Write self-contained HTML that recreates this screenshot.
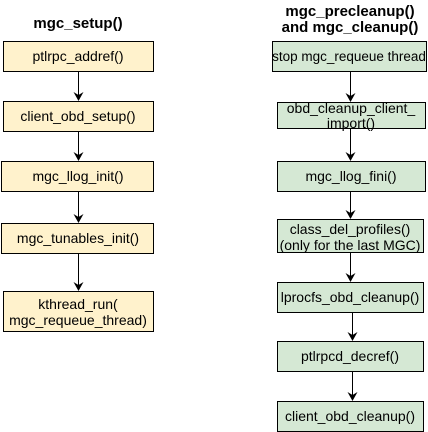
<!DOCTYPE html>
<html><head><style>
html,body{margin:0;padding:0;background:#fff;width:428px;height:432px;overflow:hidden}
svg text{font-family:"Liberation Sans",sans-serif;fill:#000}
</style></head><body>
<svg width="428" height="432" viewBox="0 0 428 432" xmlns="http://www.w3.org/2000/svg">
<g stroke="#000" stroke-width="1">
<rect x="3.5" y="41.5" width="150" height="30" fill="#fff2cc"/>
<rect x="3.5" y="101.5" width="150" height="30" fill="#fff2cc"/>
<rect x="1.5" y="161.5" width="152" height="30" fill="#fff2cc"/>
<rect x="1.5" y="223.5" width="152" height="30" fill="#fff2cc"/>
<rect x="3.5" y="291.5" width="150" height="40" fill="#fff2cc"/>
<line x1="78.5" y1="72" x2="78.5" y2="95"/>
<line x1="78.5" y1="132" x2="78.5" y2="155"/>
<line x1="78.5" y1="192" x2="78.5" y2="217"/>
<line x1="78.5" y1="254" x2="78.5" y2="285"/>
<rect x="272.5" y="41.5" width="154" height="30" fill="#d5e8d4"/>
<rect x="277.5" y="102.5" width="148" height="26" fill="#d5e8d4"/>
<rect x="277.5" y="161.5" width="148" height="30" fill="#d5e8d4"/>
<rect x="277.5" y="219.5" width="146" height="33" fill="#d5e8d4"/>
<rect x="277.5" y="282.5" width="146" height="30" fill="#d5e8d4"/>
<rect x="277.5" y="341.5" width="146" height="30" fill="#d5e8d4"/>
<rect x="277.5" y="401.5" width="146" height="30" fill="#d5e8d4"/>
<line x1="350.5" y1="72" x2="350.5" y2="96"/>
<line x1="350.5" y1="129" x2="350.5" y2="155"/>
<line x1="350.5" y1="192" x2="350.5" y2="213"/>
<line x1="350.5" y1="253" x2="350.5" y2="276"/>
<line x1="352.5" y1="313" x2="352.5" y2="335"/>
<line x1="352.5" y1="372" x2="352.5" y2="395"/>
</g>
<g fill="#000">
<path d="M73.5,92 L78.5,101 L83.5,92 L78.5,95 Z"/>
<path d="M73.5,152 L78.5,161 L83.5,152 L78.5,155 Z"/>
<path d="M73.5,214 L78.5,223 L83.5,214 L78.5,217 Z"/>
<path d="M73.5,282 L78.5,291 L83.5,282 L78.5,285 Z"/>
<path d="M345.5,93 L350.5,102 L355.5,93 L350.5,96 Z"/>
<path d="M345.5,152 L350.5,161 L355.5,152 L350.5,155 Z"/>
<path d="M345.5,210 L350.5,219 L355.5,210 L350.5,213 Z"/>
<path d="M345.5,273 L350.5,282 L355.5,273 L350.5,276 Z"/>
<path d="M347.5,332 L352.5,341 L357.5,332 L352.5,335 Z"/>
<path d="M347.5,392 L352.5,401 L357.5,392 L352.5,395 Z"/>
</g>
<g text-anchor="middle" font-size="14">
<text x="78" y="28" font-weight="bold" font-size="15">mgc_setup()</text>
<text x="78" y="61">ptlrpc_addref()</text>
<text x="78" y="121">client_obd_setup()</text>
<text x="78" y="181">mgc_llog_init()</text>
<text x="78" y="243">mgc_tunables_init()</text>
<text x="78" y="309">kthread_run(</text>
<text x="78" y="325">mgc_requeue_thread)</text>
<text x="350" y="16" font-weight="bold" font-size="15">mgc_precleanup()</text>
<text x="350" y="32" font-weight="bold" font-size="15">and mgc_cleanup()</text>
<text x="349" y="61" style="font-size:13.5px">stop mgc_requeue thread</text>
<text x="351" y="113">obd_cleanup_client_</text>
<text x="351" y="128">import()</text>
<text x="351" y="181">mgc_llog_fini()</text>
<text x="350" y="234">class_del_profiles()</text>
<text x="350" y="250">(only for the last MGC)</text>
<text x="350" y="302">lprocfs_obd_cleanup()</text>
<text x="350" y="361">ptlrpcd_decref()</text>
<text x="350" y="421">client_obd_cleanup()</text>
</g>
</svg>
</body></html>
